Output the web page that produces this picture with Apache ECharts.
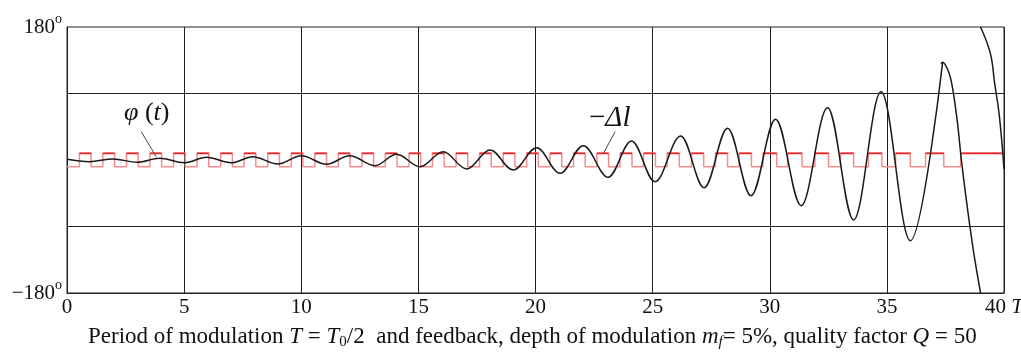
<!DOCTYPE html>
<html>
<head>
<meta charset="utf-8">
<script src="https://cdn.jsdelivr.net/npm/echarts@6/dist/echarts.min.js"></script>
<style>
  html, body { margin: 0; padding: 0; background: #fff; }
  #chart { width: 1021px; height: 353px; }
</style>
</head>
<body>
<div id="chart"></div>
<script>
// phase phi(t), degrees: peaks and troughs
const phaseT = [0, 0.96, 1.96, 3.01, 3.95, 5.02, 5.95, 7.02, 7.93, 9.0, 10.0, 11.08, 12.07, 13.14,
  14.07, 15.07, 16.06, 17.06, 18.06, 19.05, 20.05, 21.05, 22.04, 23.1, 24.1, 25.1, 26.2, 27.2,
  28.2, 29.2, 30.25, 31.34, 32.47, 33.58, 34.75, 36.0, 37.38];
const phaseDeg = [1.0, -2.3, 1.4, -3.1, 2.3, -3.7, 3.7, -3.7, 4.5, -5.4, 5.8, -5.8, 5.8, -7.7,
  7.7, -9.1, 11.2, -12.2, 13.5, -13.5, 16.6, -18.0, 19.4, -23.4, 25.7, -29.4, 32.5, -37.5,
  42.9, -48.3, 55.1, -61.8, 70.8, -81.2, 92.4, -109.2, 132.2];
// last fall down to -180 (starts just before the last peak)
const tailT = [37.31, 37.38, 37.71, 38.0, 38.18, 38.43, 38.71, 39.0];
const tailDeg = [130.4, 132.2, 112, 54, 0, -63, -126, -180];
// after wrapping through -180 the phase comes back in from +180
const wrapT = [39.0, 39.42, 39.6, 39.8, 40.0];
const wrapDeg = [180, 144, 104, 60, -12];

// -delta l: relay square wave, switching times
const riseT = [0.53, 1.53, 2.54, 3.54, 4.55, 5.55, 6.56, 7.56, 8.57, 9.57, 10.58, 11.58, 12.59, 13.59,
  14.6, 15.6, 16.61, 17.61, 18.62, 19.62, 20.62, 21.62, 22.62, 23.61, 24.61, 25.62, 26.66, 27.68,
  28.69, 29.71, 30.76, 31.93, 33.02, 34.21, 35.37, 36.65, 38.15];
const fallT = [1.03, 2.03, 3.04, 4.04, 5.05, 6.05, 7.06, 8.06, 9.07, 10.07, 11.08, 12.08, 13.09, 14.09,
  15.1, 16.1, 17.11, 18.11, 19.12, 20.12, 21.12, 22.12, 23.12, 24.12, 25.12, 26.14, 27.18, 28.2,
  29.22, 30.3, 31.38, 32.51, 33.58, 34.79, 36.0, 37.43];
const stepLevels = [-9, 9];

const xTicks = [0, 5, 10, 15, 20, 25, 30, 35, 40];
const yTicks = [-180, -90, 0, 90, 180];
const hLines = [-90, 90];
const leaders = [[[3.17, 38.3], [3.81, 4.5]], [[23.4, 38.3], [22.9, 9.1]]];

const serif = '"Liberation Serif", "DejaVu Serif", serif';

const chart = echarts.init(document.getElementById('chart'));

const toPairs = (xs, ys) => xs.map((t, i) => [t, ys[i]]);

// full square wave (pale) and its high parts (bright)
const lo = stepLevels[0], hi = stepLevels[1];
const stepData = [[0, lo]];
const highData = [];
riseT.forEach((r, i) => {
  stepData.push([r, lo], [r, hi]);
  const f = fallT[i];
  if (f !== undefined) {
    stepData.push([f, hi], [f, lo]);
    highData.push([r, hi], [f, hi], [f, '-']);
  } else {
    highData.push([r, hi], [40, hi]);
  }
});
stepData.push([40, stepData[stepData.length - 1][1]]);

const blackLine = { color: '#1a1a1a', width: 1.5 };

const option = {
  animation: false,
  grid: {
    left: 67, right: 17, top: 27, bottom: 60,
    show: true, borderColor: '#222', borderWidth: 1,
    outerBoundsMode: 'none',
    containLabel: false,
  },
  xAxis: {
    type: 'value',
    min: xTicks[0],
    max: xTicks[xTicks.length - 1],
    interval: 5,
    axisLine: { show: true, onZero: false, lineStyle: { color: '#222', width: 1 } },
    axisTick: { show: false },
    splitLine: { show: true, lineStyle: { color: '#222', width: 1 } },
    axisLabel: {
      margin: 4,
      fontFamily: serif,
      fontSize: 21,
      color: '#111',
      formatter: (v) => (v === 40 ? '{n|40} {t|T}' : String(v)),
      rich: {
        n: { fontFamily: serif, fontSize: 21, color: '#111' },
        t: { fontFamily: serif, fontSize: 21, fontStyle: 'italic', color: '#111' },
      },
    },
  },
  yAxis: {
    type: 'value',
    min: yTicks[0],
    max: yTicks[yTicks.length - 1],
    interval: 90,
    axisLine: { show: true, onZero: false, lineStyle: { color: '#222', width: 1 } },
    axisTick: { show: false },
    splitLine: { show: false },
    axisLabel: {
      margin: 5,
      formatter: (v) => (v === 180 ? '{n|180}{s|o}' : v === -180 ? '{n|\u2212180}{s|o}' : ''),
      rich: {
        n: { fontFamily: serif, fontSize: 21, color: '#111' },
        s: { fontFamily: serif, fontSize: 14, color: '#111', padding: [0, 0, 16, 0] },
      },
    },
  },
  series: [
    {
      type: 'line',
      data: stepData,
      symbol: 'none',
      lineStyle: { color: '#f48e8e', width: 1.5 },
      z: 2,
      markLine: {
        silent: true,
        symbol: 'none',
        label: { show: false },
        lineStyle: { color: '#222', width: 1, type: 'solid' },
        data: hLines.map((v) => ({ yAxis: v })),
      },
    },
    {
      type: 'line',
      data: highData,
      symbol: 'none',
      connectNulls: false,
      lineStyle: { color: '#e8262a', width: 1.6 },
      z: 3,
    },
    {
      type: 'line',
      data: toPairs(phaseT, phaseDeg),
      symbol: 'none',
      smooth: 0.36,
      smoothMonotone: 'x',
      lineStyle: blackLine,
      z: 4,
      markLine: {
        silent: true,
        symbol: 'none',
        label: { show: false },
        lineStyle: { color: '#444', width: 1, type: 'solid' },
        data: leaders.map((l) => [{ coord: l[0] }, { coord: l[1] }]),
      },
    },
    {
      type: 'line',
      data: toPairs(tailT, tailDeg),
      symbol: 'none',
      smooth: 0.3,
      lineStyle: blackLine,
      z: 4,
    },
    {
      type: 'line',
      data: toPairs(wrapT, wrapDeg),
      symbol: 'none',
      smooth: 0.4,
      lineStyle: blackLine,
      z: 4,
    },
  ],
  graphic: [
    {
      type: 'text',
      left: 124,
      top: 100,
      style: {
        text: '{i|\u03c6}{r| (}{i|t}{r|)}',
        rich: {
          i: { fontFamily: serif, fontSize: 26, fontStyle: 'italic', fill: '#111' },
          r: { fontFamily: serif, fontSize: 26, fill: '#111' },
        },
      },
    },
    {
      type: 'text',
      left: 589,
      top: 104,
      style: {
        text: '{r|\u2212}{i|\u0394l}',
        rich: {
          i: { fontFamily: serif, fontSize: 29, fontStyle: 'italic', fill: '#111' },
          r: { fontFamily: serif, fontSize: 29, fill: '#111' },
        },
      },
    },
    {
      type: 'text',
      left: 88,
      top: 325,
      style: {
        text: '{r|Period of modulation }{i|T}{r| = }{i|T}{b|0}{r|/2  and feedback, depth of modulation }{i|m}{ib|f}{r|= 5%, quality factor }{i|Q}{r| = 50}',
        rich: {
          r: { fontFamily: serif, fontSize: 23, fill: '#111' },
          i: { fontFamily: serif, fontSize: 23, fontStyle: 'italic', fill: '#111' },
          b: { fontFamily: serif, fontSize: 15, fill: '#111', padding: [11, 0, 0, 0] },
          ib: { fontFamily: serif, fontSize: 15, fontStyle: 'italic', fill: '#111', padding: [11, 0, 0, 0] },
        },
      },
    },
  ],
};

chart.setOption(option);
</script>
</body>
</html>
